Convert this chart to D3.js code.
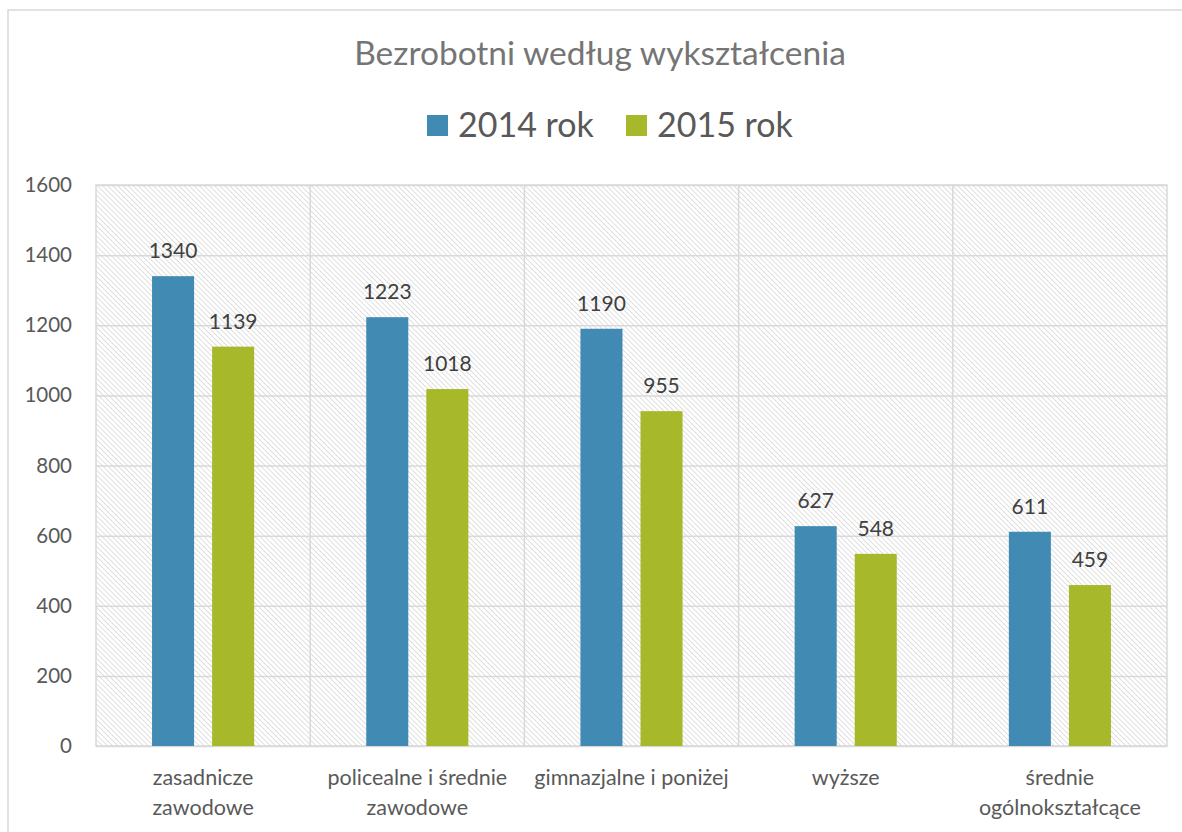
<!DOCTYPE html>
<html>
<head>
<meta charset="utf-8">
<script src="https://cdn.jsdelivr.net/npm/d3@7"></script>
<style>
  body { margin: 0; background: #fff; }
  svg { font-family: Lato, "Open Sans", sans-serif; }
</style>
</head>
<body>
<svg id="chart" width="1182" height="832"></svg>
<script>
// Data
const categories = ["zasadnicze\nzawodowe", "policealne i średnie\nzawodowe", "gimnazjalne i poniżej", "wyższe", "średnie\nogólnokształcące"];
const seriesNames = ["2014 rok", "2015 rok"];
const values2014 = [1340, 1223, 1190, 627, 611];
const values2015 = [1139, 1018, 955, 548, 459];
const yTicks = [0, 200, 400, 600, 800, 1000, 1200, 1400, 1600];
const colors = ["#418ab3", "#a8b82b"];

const svg = d3.select("#chart");
const margin = {top: 185, right: 15, bottom: 86, left: 96};
const width = 1182 - margin.left - margin.right,
      height = 832 - margin.top - margin.bottom;

// outer frame
svg.append("rect")
  .attr("x", 8).attr("y", 10)
  .attr("width", 1190).attr("height", 840)
  .attr("fill", "none")
  .attr("stroke", "#d9d9d9")
  .attr("stroke-width", 1.5);

// hatch pattern for plot background
const defs = svg.append("defs");
defs.append("pattern")
  .attr("id", "hatch")
  .attr("patternUnits", "userSpaceOnUse")
  .attr("width", 3.6).attr("height", 3.6)
  .attr("patternTransform", "rotate(-45)")
  .append("line")
  .attr("x1", 0).attr("y1", 0)
  .attr("x2", 0).attr("y2", 3.6)
  .attr("stroke", "#cfcfcf")
  .attr("stroke-width", 1.3);

const g = svg.append("g").attr("transform", `translate(${margin.left},${margin.top})`);

// scales
const x0 = d3.scaleBand().domain(categories).range([0, width]).padding(0);
const x1 = d3.scaleBand().domain(seriesNames).range([0, x0.bandwidth()])
  .paddingInner(0.3).paddingOuter(0.933);
const y = d3.scaleLinear().domain([0, 1600]).range([height, 0]);

g.append("rect")
  .attr("width", width).attr("height", height)
  .attr("fill", "url(#hatch)");

// horizontal gridlines
g.append("g")
  .call(d3.axisLeft(y).tickValues(yTicks).tickSize(-width).tickFormat(""))
  .call(a => a.select(".domain").remove())
  .selectAll("line")
  .attr("stroke", "#d9d9d9")
  .attr("stroke-width", 1.5);

// vertical category separators
g.append("g")
  .selectAll("line")
  .data(categories.slice(1))
  .enter().append("line")
  .attr("x1", d => x0(d)).attr("x2", d => x0(d))
  .attr("y1", 0).attr("y2", height)
  .attr("stroke", "#d9d9d9")
  .attr("stroke-width", 1.5);

// plot border
g.append("rect")
  .attr("width", width).attr("height", height)
  .attr("fill", "none")
  .attr("stroke", "#d9d9d9")
  .attr("stroke-width", 1.5);

// y tick labels
g.append("g")
  .call(d3.axisLeft(y).tickValues(yTicks).tickSize(0).tickPadding(24).tickFormat(d3.format("d")))
  .call(a => a.select(".domain").remove())
  .selectAll("text")
  .attr("fill", "#595959")
  .style("font-size", "20.5px")
  .style("font-family", "Lato, sans-serif");

// bars
const rows = categories.map((c, i) => ({cat: c, vals: [values2014[i], values2015[i]]}));
const groups = g.selectAll(".grp")
  .data(rows)
  .enter().append("g")
  .attr("transform", d => `translate(${x0(d.cat)},0)`);

groups.selectAll("rect")
  .data(d => d.vals.map((v, j) => ({s: seriesNames[j], v: v, j: j})))
  .enter().append("rect")
  .attr("x", d => x1(d.s))
  .attr("y", d => y(d.v))
  .attr("width", x1.bandwidth())
  .attr("height", d => height - y(d.v))
  .attr("fill", d => colors[d.j]);

// data labels
groups.selectAll("text")
  .data(d => d.vals.map((v, j) => ({s: seriesNames[j], v: v})))
  .enter().append("text")
  .attr("x", d => x1(d.s) + x1.bandwidth() / 2)
  .attr("y", d => y(d.v) - 18)
  .attr("text-anchor", "middle")
  .attr("fill", "#404040")
  .style("font-size", "21px")
  .text(d => d.v);

// category labels
g.selectAll(".cat")
  .data(categories)
  .enter().append("text")
  .attr("class", "cat")
  .attr("text-anchor", "middle")
  .attr("fill", "#595959")
  .style("font-size", "21.5px")
  .each(function(d) {
    const t = d3.select(this);
    d.split("\n").forEach((line, i) => {
      t.append("tspan")
        .attr("x", x0(d) + x0.bandwidth() / 2)
        .attr("y", height + 39 + i * 30)
        .text(line);
    });
  });

// title
svg.append("text")
  .attr("x", 600).attr("y", 65)
  .attr("text-anchor", "middle")
  .attr("fill", "#757575")
  .style("font-size", "33.5px")
  .text("Bezrobotni według wykształcenia");

// legend
const legendX = [427, 626];
const legend = svg.append("g");
seriesNames.forEach((s, i) => {
  legend.append("rect")
    .attr("x", legendX[i]).attr("y", 115)
    .attr("width", 21).attr("height", 21)
    .attr("fill", colors[i]);
  legend.append("text")
    .attr("x", legendX[i] + 31).attr("y", 137)
    .attr("fill", "#595959")
    .style("font-size", "34px")
    .text(s);
});
</script>
</body>
</html>
